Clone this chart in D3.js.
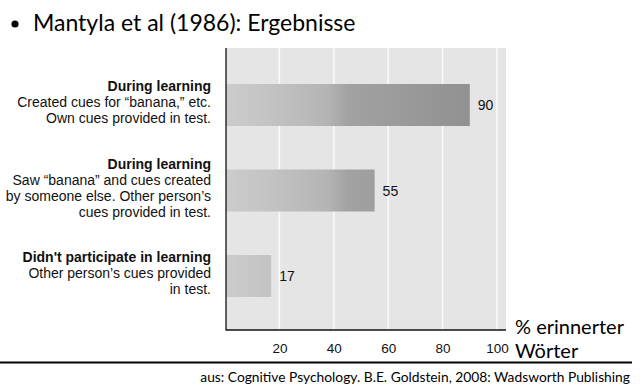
<!DOCTYPE html>
<html>
<head>
<meta charset="utf-8">
<script src="https://cdn.jsdelivr.net/npm/d3@7"></script>
<style>
  html, body { margin: 0; padding: 0; background: #fff; }
  svg { display: block; }
</style>
</head>
<body>
<svg id="chart" width="640" height="388"></svg>
<script>
// ---- data ----
const titleText = "Mantyla et al (1986): Ergebnisse";
const categories = ["cond1", "cond2", "cond3"];
const boldLines = ["During learning", "During learning", "Didn't participate in learning"];
const detailLines = [
  ["Created cues for \u201cbanana,\u201d etc.", "Own cues provided in test."],
  ["Saw \u201cbanana\u201d and cues created", "by someone else. Other person\u2019s", "cues provided in test."],
  ["Other person\u2019s cues provided", "in test."]
];
const values = [90, 55, 17];
const xTicks = [20, 40, 60, 80, 100];
const axisTitle = ["% erinnerter", "W\u00f6rter"];
const sourceText = "aus: Cognitive Psychology. B.E. Goldstein, 2008: Wadsworth Publishing";

// ---- layout ----
const svg = d3.select("#chart");
const plot = { left: 226, right: 506, top: 48, bottom: 330 };
const x = d3.scaleLinear().domain([0, 100]).range([225, 497]);
const y = d3.scalePoint().domain(categories).range([105, 276]);
const barH = 42;

const sans = "'Liberation Sans', Arial, Helvetica, sans-serif";
const slide = "Lato, 'Open Sans', sans-serif";

// gradient
const defs = svg.append("defs");
const grad = defs.append("linearGradient").attr("id", "barGrad")
  .attr("gradientUnits", "userSpaceOnUse")
  .attr("x1", x(0)).attr("x2", x(90)).attr("y1", 0).attr("y2", 0);
[[0, "#cccccc"], [0.2, "#c2c2c2"], [0.42, "#b4b4b4"], [0.5, "#a2a2a2"], [1, "#919191"]]
  .forEach(([o, c]) => grad.append("stop").attr("offset", o).attr("stop-color", c));

// title
svg.append("circle").attr("cx", 15).attr("cy", 24).attr("r", 3.6).attr("fill", "#000");
svg.append("text").attr("x", 33).attr("y", 31)
  .attr("font-family", slide).attr("font-size", 23).attr("fill", "#000")
  .text(titleText);

// plot background
svg.append("rect").attr("x", plot.left).attr("y", plot.top)
  .attr("width", plot.right - plot.left).attr("height", plot.bottom - plot.top)
  .attr("fill", "#e5e5e5");

// grid
svg.append("g").selectAll("line").data(xTicks).join("line")
  .attr("x1", d => x(d)).attr("x2", d => x(d))
  .attr("y1", plot.top).attr("y2", plot.bottom)
  .attr("stroke", "#fafafa").attr("stroke-width", 1.6);

// bars
svg.append("g").selectAll("rect").data(values).join("rect")
  .attr("x", plot.left)
  .attr("y", (d, i) => y(categories[i]) - barH / 2)
  .attr("width", d => x(d) - plot.left)
  .attr("height", barH)
  .attr("fill", "url(#barGrad)");

// value labels
svg.append("g").selectAll("text").data(values).join("text")
  .attr("x", d => x(d) + 8)
  .attr("y", (d, i) => y(categories[i]))
  .attr("dy", "0.36em")
  .attr("font-family", sans).attr("font-size", 14).attr("fill", "#111")
  .text(d => d);

// axes lines
svg.append("line").attr("x1", plot.left).attr("x2", plot.left)
  .attr("y1", plot.top).attr("y2", plot.bottom + 0.5)
  .attr("stroke", "#111").attr("stroke-width", 1.3);
svg.append("line").attr("x1", plot.left).attr("x2", plot.right)
  .attr("y1", plot.bottom).attr("y2", plot.bottom)
  .attr("stroke", "#111").attr("stroke-width", 1.3);

// x tick labels via axis
const xAxis = d3.axisBottom(x).tickValues(xTicks).tickSize(0).tickPadding(0);
const gx = svg.append("g").attr("transform", `translate(0,${plot.bottom + 13})`).call(xAxis);
gx.select(".domain").remove();
gx.selectAll("text").attr("font-family", sans).attr("font-size", 13.5).attr("fill", "#111");

// category labels
const lineH = 16;
categories.forEach((c, i) => {
  const lines = [boldLines[i]].concat(detailLines[i]);
  const n = lines.length;
  const cy = y(c) - 3;
  const t = svg.append("text").attr("text-anchor", "end")
    .attr("font-family", sans).attr("font-size", 14).attr("fill", "#111");
  lines.forEach((ln, j) => {
    t.append("tspan").attr("x", 211)
      .attr("y", cy + (j - (n - 1) / 2) * lineH)
      .attr("dy", "0.36em")
      .attr("font-weight", j === 0 ? "bold" : "normal")
      .text(ln);
  });
});

// axis title
svg.append("text").attr("x", 515).attr("y", 334)
  .attr("font-family", slide).attr("font-size", 20).attr("fill", "#000").text(axisTitle[0]);
svg.append("text").attr("x", 515).attr("y", 358)
  .attr("font-family", slide).attr("font-size", 20).attr("fill", "#000").text(axisTitle[1]);

// separator
svg.append("line").attr("x1", 0).attr("x2", 632).attr("y1", 362.5).attr("y2", 362.5)
  .attr("stroke", "#000").attr("stroke-width", 1.8);

// source
svg.append("text").attr("x", 630).attr("y", 382).attr("text-anchor", "end")
  .attr("font-family", slide).attr("font-size", 13.8).attr("fill", "#000").text(sourceText);
</script>
</body>
</html>
